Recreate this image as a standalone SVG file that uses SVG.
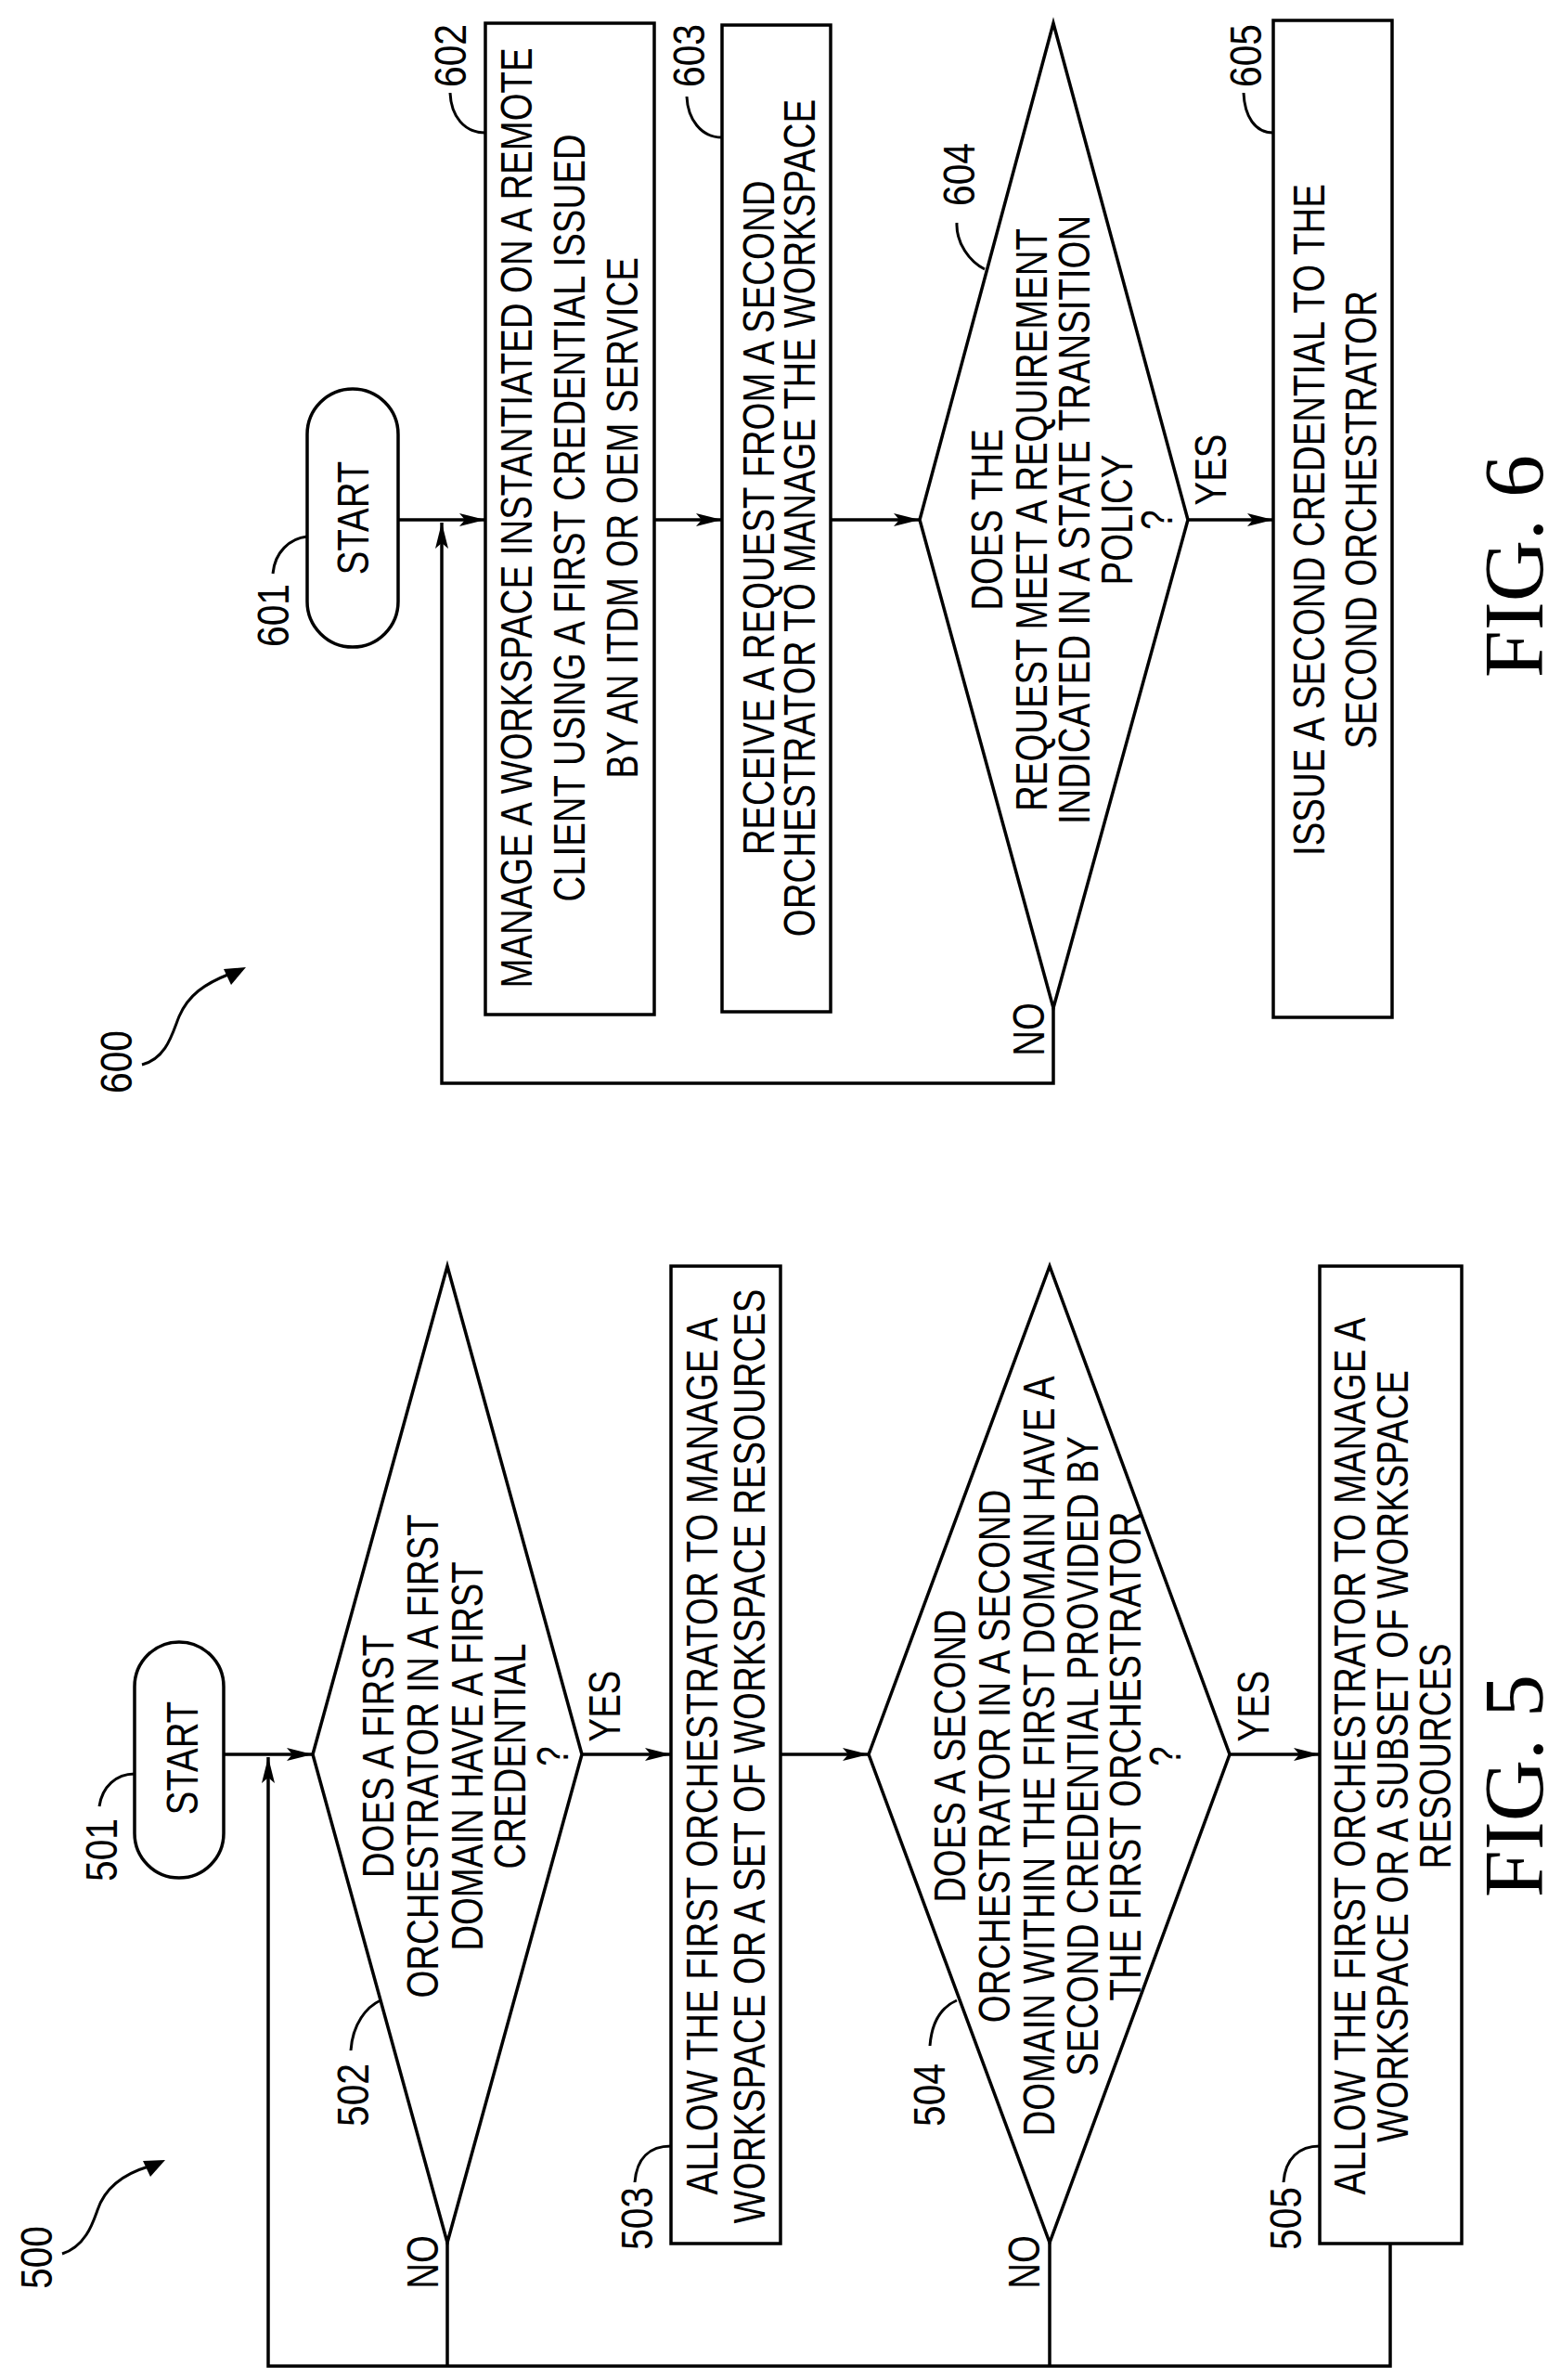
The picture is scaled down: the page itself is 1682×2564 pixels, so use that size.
<svg xmlns="http://www.w3.org/2000/svg" width="1682" height="2564" viewBox="0 0 1682 2564">
<style>
.s{fill:none;stroke:#000;stroke-width:3.5}
.c{fill:none;stroke:#000;stroke-width:3.5}
.l{fill:none;stroke:#000;stroke-width:3}
text{font-family:"Liberation Sans",Arial,sans-serif;font-size:48px;fill:#000;text-anchor:middle}
.fig{font-family:"Liberation Serif","Times New Roman",serif;font-size:92px}
</style>
<defs>
<marker id="a" viewBox="0 0 28 14" refX="28" refY="7" markerWidth="28" markerHeight="14" markerUnits="userSpaceOnUse" orient="auto"><path d="M0,0 L28,7 L0,14 L6,7 z" fill="#000"/></marker>
</defs>
<rect width="1682" height="2564" fill="#fff"/>

<g id="connectors">
<line class="c" x1="429" y1="560" x2="523" y2="560" marker-end="url(#a)"/>
<line class="c" x1="705" y1="560" x2="778" y2="560" marker-end="url(#a)"/>
<line class="c" x1="895" y1="560" x2="991" y2="560" marker-end="url(#a)"/>
<line class="c" x1="1280" y1="560" x2="1372" y2="560" marker-end="url(#a)"/>
<path class="c" d="M1135,1086 V1167 H476 V563" marker-end="url(#a)"/>
<line class="c" x1="241" y1="1890" x2="337" y2="1890" marker-end="url(#a)"/>
<line class="c" x1="627" y1="1890" x2="723" y2="1890" marker-end="url(#a)"/>
<line class="c" x1="841" y1="1890" x2="936" y2="1890" marker-end="url(#a)"/>
<line class="c" x1="1325" y1="1890" x2="1422" y2="1890" marker-end="url(#a)"/>
<path class="c" d="M1498,2417 V2549 H289 V1893" marker-end="url(#a)"/>
<path class="c" d="M482,2416 V2549 M1131,2416 V2549"/>
<text transform="translate(1321,506) rotate(-90) scale(0.8,1)">YES</text>
<text transform="translate(1125,1109) rotate(-90) scale(0.8,1)">NO</text>
<text transform="translate(668,1838) rotate(-90) scale(0.8,1)">YES</text>
<text transform="translate(472,2437) rotate(-90) scale(0.8,1)">NO</text>
<text transform="translate(1367,1838) rotate(-90) scale(0.8,1)">YES</text>
<text transform="translate(1120,2437) rotate(-90) scale(0.8,1)">NO</text>
</g>

<g id="n600">
<text transform="translate(142,1144) rotate(-90) scale(0.85,1)">600</text>
<path class="l" d="M153,1147 C180,1140 186,1112 193,1095 C203,1072 220,1060 248,1049"/>
<polygon points="265,1042 249,1061 241,1044"/>
</g>
<g id="n601">
<rect class="s" x="331" y="419" width="98" height="278" rx="49"/>
<text transform="translate(397,558) rotate(-90) scale(0.8,1)">START</text>
<text transform="translate(311,663) rotate(-90) scale(0.85,1)">601</text>
<path class="l" d="M294,618 C296,595 312,580 331,578"/>
</g>
<g id="n602">
<rect class="s" x="523" y="25" width="182" height="1068"/>
<text transform="translate(573,558) rotate(-90) scale(0.8,1)">MANAGE A WORKSPACE INSTANTIATED ON A REMOTE</text>
<text transform="translate(630,558) rotate(-90) scale(0.8,1)">CLIENT USING A FIRST CREDENTIAL ISSUED</text>
<text transform="translate(687,558) rotate(-90) scale(0.8,1)">BY AN ITDM OR OEM SERVICE</text>
<text transform="translate(502,60) rotate(-90) scale(0.85,1)">602</text>
<path class="l" d="M485,100 C486,125 500,143 523,143"/>
</g>
<g id="n603">
<rect class="s" x="778" y="27" width="117" height="1063"/>
<text transform="translate(834,558) rotate(-90) scale(0.8,1)">RECEIVE A REQUEST FROM A SECOND</text>
<text transform="translate(878,558) rotate(-90) scale(0.8,1)">ORCHESTRATOR TO MANAGE THE WORKSPACE</text>
<text transform="translate(759,60) rotate(-90) scale(0.85,1)">603</text>
<path class="l" d="M740,104 C741,128 755,148 778,148"/>
</g>
<g id="n604">
<polygon class="s" points="991,560 1135,25 1280,560 1135,1086"/>
<text transform="translate(1080,560) rotate(-90) scale(0.8,1)">DOES THE</text>
<text transform="translate(1128,560) rotate(-90) scale(0.8,1)">REQUEST MEET A REQUIREMENT</text>
<text transform="translate(1174,560) rotate(-90) scale(0.8,1)">INDICATED IN A STATE TRANSITION</text>
<text transform="translate(1220,560) rotate(-90) scale(0.8,1)">POLICY</text>
<text transform="translate(1263,560) rotate(-90) scale(0.8,1)">?</text>
<text transform="translate(1050,188) rotate(-90) scale(0.85,1)">604</text>
<path class="l" d="M1031,240 C1030,262 1045,282 1061,290"/>
</g>
<g id="n605">
<rect class="s" x="1372" y="22" width="128" height="1074"/>
<text transform="translate(1427,560) rotate(-90) scale(0.8,1)">ISSUE A SECOND CREDENTIAL TO THE</text>
<text transform="translate(1483,560) rotate(-90) scale(0.8,1)">SECOND ORCHESTRATOR</text>
<text transform="translate(1359,60) rotate(-90) scale(0.85,1)">605</text>
<path class="l" d="M1340,100 C1341,125 1352,143 1372,143"/>
</g>
<text class="fig" transform="translate(1662,610) rotate(-90)">FIG. 6</text>

<g id="n500">
<text transform="translate(56,2432) rotate(-90) scale(0.85,1)">500</text>
<path class="l" d="M67,2428 C92,2420 100,2395 105,2381 C112,2360 130,2343 160,2334"/>
<polygon points="178,2327 162,2345 154,2328"/>
</g>
<g id="n501">
<rect class="s" x="145" y="1769" width="96" height="254" rx="48"/>
<text transform="translate(213,1894) rotate(-90) scale(0.8,1)">START</text>
<text transform="translate(126,1993) rotate(-90) scale(0.85,1)">501</text>
<path class="l" d="M107,1946 C110,1925 125,1911 145,1911"/>
</g>
<g id="n502">
<polygon class="s" points="337,1890 482,1364 627,1890 482,2416"/>
<text transform="translate(424,1892) rotate(-90) scale(0.8,1)">DOES A FIRST</text>
<text transform="translate(472,1892) rotate(-90) scale(0.8,1)">ORCHESTRATOR IN A FIRST</text>
<text transform="translate(520,1892) rotate(-90) scale(0.8,1)">DOMAIN HAVE A FIRST</text>
<text transform="translate(566,1892) rotate(-90) scale(0.8,1)">CREDENTIAL</text>
<text transform="translate(612,1892) rotate(-90) scale(0.8,1)">?</text>
<text transform="translate(397,2257) rotate(-90) scale(0.85,1)">502</text>
<path class="l" d="M378,2209 C380,2180 395,2162 410,2155"/>
</g>
<g id="n503">
<rect class="s" x="723" y="1364" width="118" height="1053"/>
<text transform="translate(773,1892) rotate(-90) scale(0.8,1)">ALLOW THE FIRST ORCHESTRATOR TO MANAGE A</text>
<text transform="translate(824,1892) rotate(-90) scale(0.8,1)">WORKSPACE OR A SET OF WORKSPACE RESOURCES</text>
<text transform="translate(703,2390) rotate(-90) scale(0.85,1)">503</text>
<path class="l" d="M684,2351 C686,2325 700,2312 723,2312"/>
</g>
<g id="n504">
<polygon class="s" points="936,1890 1131,1364 1325,1890 1131,2416"/>
<text transform="translate(1040,1892) rotate(-90) scale(0.8,1)">DOES A SECOND</text>
<text transform="translate(1088,1892) rotate(-90) scale(0.8,1)">ORCHESTRATOR IN A SECOND</text>
<text transform="translate(1136,1892) rotate(-90) scale(0.8,1)">DOMAIN WITHIN THE FIRST DOMAIN HAVE A</text>
<text transform="translate(1183,1892) rotate(-90) scale(0.8,1)">SECOND CREDENTIAL PROVIDED BY</text>
<text transform="translate(1229,1892) rotate(-90) scale(0.8,1)">THE FIRST ORCHESTRATOR</text>
<text transform="translate(1272,1892) rotate(-90) scale(0.8,1)">?</text>
<text transform="translate(1018,2257) rotate(-90) scale(0.85,1)">504</text>
<path class="l" d="M1002,2204 C1004,2178 1015,2162 1031,2155"/>
</g>
<g id="n505">
<rect class="s" x="1422" y="1364" width="153" height="1053"/>
<text transform="translate(1471,1892) rotate(-90) scale(0.8,1)">ALLOW THE FIRST ORCHESTRATOR TO MANAGE A</text>
<text transform="translate(1517,1892) rotate(-90) scale(0.8,1)">WORKSPACE OR A SUBSET OF WORKSPACE</text>
<text transform="translate(1563,1892) rotate(-90) scale(0.8,1)">RESOURCES</text>
<text transform="translate(1402,2390) rotate(-90) scale(0.85,1)">505</text>
<path class="l" d="M1383,2351 C1385,2325 1400,2312 1422,2312"/>
</g>
<text class="fig" transform="translate(1662,1924) rotate(-90)">FIG. 5</text>
</svg>
